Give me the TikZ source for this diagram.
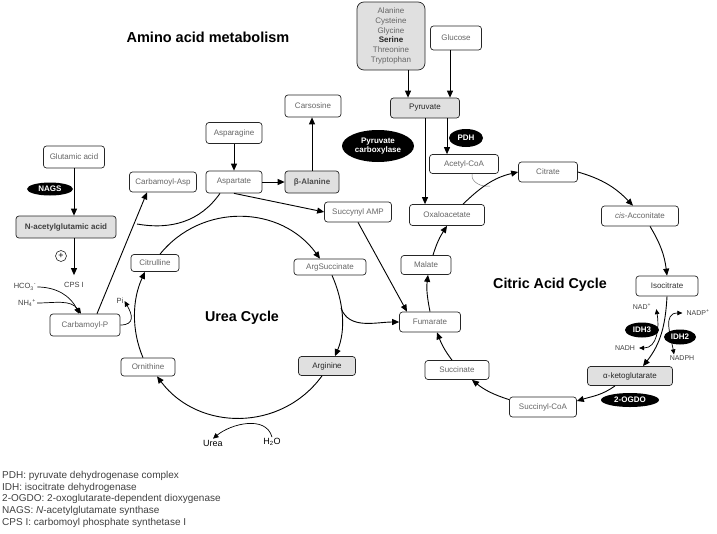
\documentclass[tikz,border=0pt]{standalone}
\usepackage{fontspec}
\setmainfont{Liberation Sans}
\usetikzlibrary{arrows.meta,shapes.geometric}
\begin{document}
\begin{tikzpicture}[x=1pt,y=1pt,
  box/.style={draw=black!85, line width=0.7pt, rounded corners=3pt, fill=white, text=black!60, font=\fontsize{8}{9.6}\selectfont, inner sep=0pt, align=center},
  gbox/.style={box, fill=black!12, text=black!85},
  enz/.style={ellipse, fill=black, text=white, inner sep=0pt, font=\fontsize{8}{9}\selectfont\bfseries, align=center},
  lbl/.style={inner sep=1pt, text=black!75, font=\fontsize{7}{8}\selectfont},
  ttl/.style={inner sep=0pt, font=\fontsize{14.3}{16}\selectfont\bfseries, text=black},
  arr/.style={-{Triangle[length=7pt,width=6pt]}, line width=0.9pt, black},
  arrs/.style={-{Triangle[length=5.5pt,width=5pt]}, line width=0.7pt, black},
  sarr/.style={{Triangle[length=5pt,width=4.5pt]}-{Triangle[length=5pt,width=4.5pt]}, line width=0.7pt},
  ln/.style={line width=0.9pt}
]
\useasboundingbox (0,0) rectangle (717,-533);

% titles
\node[ttl, font=\fontsize{14.5}{16}\selectfont\bfseries] (tamino) at (208,-37) {Amino acid metabolism};
\node[ttl] (turea) at (242,-318) {Urea Cycle};
\node[ttl] (tcitric) at (550,-285) {Citric Acid Cycle};

% amino acid / pyruvate
\node[gbox, rounded corners=7pt, minimum width=68pt, minimum height=68pt, text=black!60, font=\fontsize{8}{9.8}\selectfont] (amino) at (391,-36) {Alanine\\Cysteine\\Glycine\\\textbf{\color{black!85}Serine}\\Threonine\\Tryptophan};
\node[box, minimum width=51pt, minimum height=24pt] (glucose) at (456,-38) {Glucose};
\node[gbox, minimum width=69pt, minimum height=20pt] (pyr) at (425,-108) {Pyruvate};
\node[enz, minimum width=72pt, minimum height=32pt] (pc) at (378,-146) {Pyruvate\\carboxylase};
\node[enz, minimum width=34pt, minimum height=18pt] (pdh) at (466,-138) {PDH};
\node[box, minimum width=69pt, minimum height=19pt] (acetyl) at (464,-164) {Acetyl-CoA};

% citric acid cycle
\node[box, minimum width=75pt, minimum height=21pt] (oxa) at (447,-215) {Oxaloacetate};
\node[box, minimum width=59pt, minimum height=20pt] (citrate) at (548,-172) {Citrate};
\node[box, minimum width=77pt, minimum height=20pt] (cis) at (640,-216) {\textit{cis}-Acconitate};
\node[box, minimum width=62pt, minimum height=20pt, text=black!80] (iso) at (667,-286) {Isocitrate};
\node[gbox, minimum width=85pt, minimum height=19pt] (akg) at (630,-376) {α-ketoglutarate};
\node[enz, minimum width=58pt, minimum height=14pt] (ogdo) at (630,-400) {2-OGDO};
\node[enz, minimum width=34pt, minimum height=15pt] (idh3) at (642,-330) {IDH3};
\node[enz, minimum width=32pt, minimum height=15pt] (idh2) at (680,-337) {IDH2};
\node[lbl] (nad) at (642,-307) {NAD\textsuperscript{+}};
\node[lbl] (nadp) at (698,-313) {NADP\textsuperscript{+}};
\node[lbl] (nadh) at (625,-348) {NADH};
\node[lbl] (nadph) at (682,-358) {NADPH};
\node[box, minimum width=67pt, minimum height=20pt] (succoa) at (543,-407) {Succinyl-CoA};
\node[box, minimum width=64pt, minimum height=19pt] (succ) at (457,-370) {Succinate};
\node[box, minimum width=61pt, minimum height=20pt] (fum) at (430,-322) {Fumarate};
\node[box, minimum width=50pt, minimum height=19pt] (malate) at (426,-265) {Malate};
\coordinate (acj) at (490,-186);

% urea cycle and amino acids
\node[box, minimum width=67pt, minimum height=20pt] (succamp) at (358,-212) {Succynyl AMP};
\node[box, minimum width=72pt, minimum height=16pt] (argsucc) at (330,-267) {ArgSuccinate};
\node[gbox, minimum width=57pt, minimum height=19pt] (arg) at (327,-366) {Arginine};
\node[box, minimum width=54pt, minimum height=18pt] (orn) at (148,-367) {Ornithine};
\node[box, minimum width=48pt, minimum height=17pt] (cit) at (155,-263) {Citrulline};
\node[inner sep=1pt, font=\fontsize{9}{10}\selectfont] (urea) at (213,-443) {Urea};
\node[inner sep=1pt, font=\fontsize{9}{10}\selectfont] (h2o) at (272,-442) {H\textsubscript{2}O};
\coordinate (argb) at (341,-308);

\node[box, minimum width=70pt, minimum height=22pt] (carbp) at (85,-325) {Carbamoyl-P};
\node[box, minimum width=67pt, minimum height=20pt] (carbasp) at (163,-182) {Carbamoyl-Asp};
\node[box, minimum width=56pt, minimum height=22pt] (asp) at (234,-182) {Aspartate};
\node[box, minimum width=56pt, minimum height=21pt] (asn) at (234,-133) {Asparagine};
\node[gbox, minimum width=54pt, minimum height=22pt, font=\fontsize{8}{9.6}\selectfont\bfseries, text=black!70] (bala) at (312,-182) {β-Alanine};
\node[box, minimum width=56pt, minimum height=22pt] (carsosine) at (313,-106) {Carsosine};
\coordinate (aspj) at (137,-224);

\node[box, minimum width=61pt, minimum height=22pt] (glu) at (74,-157) {Glutamic acid};
\node[enz, minimum width=46pt, minimum height=13pt] (nags) at (50,-189) {NAGS};
\node[gbox, minimum width=100pt, minimum height=22pt, font=\fontsize{8}{9.6}\selectfont\bfseries, text=black!75] (nag) at (66,-227) {N-acetylglutamic acid};
\node[circle, draw=black!85, line width=0.6pt, minimum size=11pt, inner sep=0pt, font=\fontsize{9}{9}\selectfont] (plus) at (61,-256) {+};
\node[lbl, font=\fontsize{7.5}{8}\selectfont] (cps) at (74,-285) {CPS I};
\node[lbl, font=\fontsize{7.5}{8}\selectfont] (hco) at (25,-287) {HCO\textsubscript{3}\textsuperscript{-}};
\node[lbl, font=\fontsize{7.5}{8}\selectfont] (nh4) at (27,-303) {NH\textsubscript{4}\textsuperscript{+}};
\node[lbl, font=\fontsize{7.5}{8}\selectfont] (pi) at (120,-301) {Pi};

% legend
\node[anchor=north west, inner sep=0pt, align=left, text=black!75, font=\fontsize{10}{11.7}\selectfont] (legend) at (2,-471) {PDH: pyruvate dehydrogenase complex\\IDH: isocitrate dehydrogenase\\2-OGDO: 2-oxoglutarate-dependent dioxygenase\\NAGS: \textit{N}-acetylglutamate synthase\\CPS I: carbomoyl phosphate synthetase I};

% ---- connectors: left
\draw[arr] (glu.south) -- (glu.south |- nag.north);
\draw[arr] (nag.south -| cps.north) -- ([yshift=6pt]cps.north);
\draw[arrs] (hco.east) to[out=0,in=115] ([xshift=-6pt]carbp.north);
\draw[arrs] (nh4.east) to[out=0,in=125] ([xshift=-4pt]carbp.north);
\draw[arr] ([xshift=12pt]carbp.north) -- ([xshift=-16pt]carbasp.south);
\draw[ln] ([xshift=-14pt]asp.south) to[out=-125,in=-10] (aspj);
\draw[arr] (asp.south) -- (succamp.west);
\draw[arr] (asp.east) -- (bala.west);
\draw[arr] (asn.south) -- (asp.north);
\draw[arr] (bala.north) -- (bala.north |- carsosine.south);
\draw[arr] (succamp.south) -- ([xshift=-23pt]fum.north);

% urea cycle
\draw[arr] ([xshift=-5pt]orn.north) to[out=113,in=245,looseness=0.9] ([xshift=-10pt]cit.south);
\draw[arr] ([xshift=5pt]cit.north) to[out=51,in=126,looseness=1.06] ([xshift=-10pt]argsucc.north);
\draw[arr] ([xshift=2pt]argsucc.south) to[out=-66,in=67,looseness=0.9] ([xshift=8pt]arg.north);
\draw[arr] ([xshift=-5pt]arg.south) to[out=-126,in=-53,looseness=1.07] ([xshift=9pt]orn.south);
\draw[arr] (argb) to[out=-70,in=180] (fum.west);
\draw[arrs] (carbp.east) to[out=0,in=-60,looseness=1.6] (pi.east);
\draw[arrs] (h2o.north) to[out=105,in=40] (urea.north);

% pyruvate
\draw[arr] ([xshift=17pt]amino.south) -- ([xshift=17pt]amino.south |- pyr.north);
\draw[arr] ([xshift=-6pt]glucose.south) -- ([xshift=-6pt]glucose.south |- pyr.north);
\draw[arr] (pyr.south) -- (pyr.south |- oxa.north);
\draw[arr] ([xshift=22pt]pyr.south) -- ([xshift=22pt]pyr.south |- acetyl.north);
\draw[gray, line width=0.5pt] ([xshift=8pt]acetyl.south) to[out=-100,in=190] (acj);

% citric acid cycle
\draw[arr] ([xshift=16pt]oxa.north) to[out=44,in=193] (citrate.west);
\draw[arr] (citrate.east) to[out=-16,in=134] ([xshift=-7pt]cis.north);
\draw[arr] ([xshift=10pt]cis.south) to[out=-59,in=97] (iso.north);
\draw[arr] (iso.south) to[out=-93,in=52] ([xshift=13pt]akg.north);
\draw[arr] ([xshift=-15pt]akg.south) to[out=-144,in=17] ([yshift=6pt]succoa.east);
\draw[arr] ([yshift=-3pt]succoa.north west) to[out=162,in=-39] ([xshift=15pt]succ.south);
\draw[arr] ([xshift=-5pt]succ.north) to[out=127,in=-69] ([xshift=7pt]fum.south);
\draw[arr] (fum.north) to[out=101,in=-97] ([xshift=2pt]malate.south);
\draw[arr] ([xshift=7pt]malate.north) to[out=73,in=-123] (oxa.south);
\draw[sarr] ([xshift=4pt,yshift=2pt]nad.south east) to[out=-80,in=0,looseness=1.1] ([xshift=3pt]nadh.east);
\draw[sarr] ([xshift=-3pt]nadp.west) to[out=180,in=100,looseness=1.2] ([xshift=-8pt]nadph.north);
\end{tikzpicture}
\end{document}
